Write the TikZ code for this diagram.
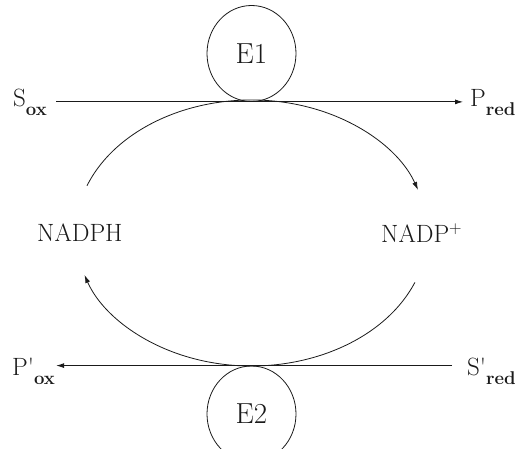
\documentclass[tikz,border=0pt]{standalone}
\usepackage{fontspec}
\usetikzlibrary{arrows.meta,shapes.geometric}
\definecolor{ink}{HTML}{1A1A1A}
\newcommand{\mainsz}{\fontsize{25}{29}\selectfont}
\newcommand{\lowsub}[1]{\raisebox{-8.5pt}{\fontsize{18.5}{20}\selectfont\bfseries #1}}
\begin{document}
\begin{tikzpicture}[x=1pt,y=1pt,
  lbl/.style={inner sep=0pt,text=ink,font=\mainsz},
  enz/.style={draw=ink,line width=0.8pt,ellipse,minimum width=89pt,minimum height=96pt,inner sep=0pt,text=ink,font=\fontsize{29}{32}\selectfont},
  conn/.style={draw=ink,line width=0.8pt},
  tip/.style={-{Latex[length=8pt,width=5pt]}}
]
\useasboundingbox (0,0) rectangle (515,449);
\begin{scope}
\clip (0,0) rectangle (515,449);
\node[enz] (E1) at (251.5,395.5) {E1};
\node[enz] (E2) at (251.5,35) {E2};
\end{scope}
\coordinate (C) at (251.5,216);
\node[lbl,anchor=base west] (sox) at (13,342) {S\lowsub{ox}};
\node[lbl,anchor=base west] (pred) at (470,342) {P\lowsub{red}};
\node[lbl,anchor=base west] (pox) at (12,73) {P\textquotesingle\lowsub{ox}};
\node[lbl,anchor=base west] (sred) at (467,73) {S\textquotesingle\lowsub{red}};
\node[lbl,anchor=base west] (nadph) at (37,207) {NADPH};
\node[lbl,anchor=base west] (nadp) at (381,206) {NADP$^{+}$};
\draw[conn,tip,shorten <=9pt,shorten >=7pt] (sox.east |- E1.south) -- (pred.west |- E1.south);
\draw[conn,tip,shorten <=15pt,shorten >=1pt] (sred.west |- E2.north) -- (pox.east |- E2.north);
\draw[conn,tip] ([shift={(159.2:176 and 133)}]C) arc[start angle=159.2,end angle=18.9,x radius=176,y radius=133];
\draw[conn,tip] ([shift={(-21.8:176 and 133)}]C) arc[start angle=-21.8,end angle=-161.6,x radius=176,y radius=133];
\end{tikzpicture}
\end{document}
